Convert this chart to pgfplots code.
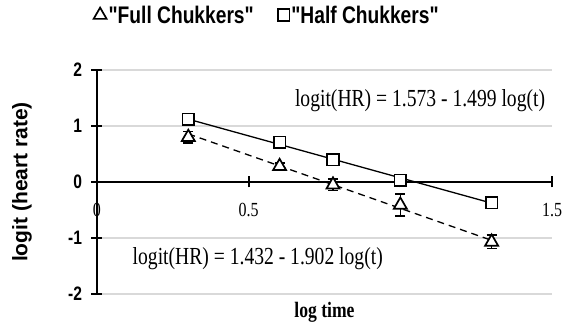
\documentclass[border=0pt]{standalone}
\usepackage{pgfplots}
\pgfplotsset{compat=1.18}
\usepackage{fontspec}
\setmainfont{Liberation Serif}[FakeStretch=0.8]
\setsansfont{Liberation Sans}[FakeStretch=0.8]
\newfontfamily\legfont{Liberation Sans}[FakeStretch=0.8]
\newfontfamily\ylabfont{Liberation Sans}
\begin{document}
\begin{tikzpicture}
\useasboundingbox (-97pt,-30pt) rectangle (484pt,294pt);
\begin{axis}[
  at={(0pt,0pt)}, anchor=south west,
  scale only axis, width=455pt, height=224pt,
  xmin=0, xmax=1.5, ymin=-2, ymax=2,
  axis lines=middle,
  axis line style={-, line width=1.7pt, black},
  hide obscured x ticks=false, hide obscured y ticks=false,
  xtick={0,0.5,1,1.5}, xticklabels={0,0.5,,1.5},
  ytick={-2,-1,0,1,2}, yticklabels={-2,-1,0,1,2},
  tick align=center, major tick length=11pt,
  tick style={line width=1.7pt, black},
  ymajorgrids, grid style={line width=1.2pt, black!15},
  xticklabel style={font=\rmfamily\fontsize{20}{23}\selectfont, yshift=-12pt},
  yticklabel style={font=\sffamily\bfseries\fontsize{19.5}{22}\selectfont, xshift=-6pt},
  xlabel={log time},
  xlabel style={at={(axis description cs:0.5,-0.082)}, anchor=center, font=\rmfamily\bfseries\fontsize{22}{25}\selectfont},
  ylabel={logit (heart rate)},
  ylabel style={at={(axis description cs:-0.165,0.5)}, anchor=center, rotate=90, font=\ylabfont\bfseries\fontsize{21}{25}\selectfont},
  legend style={at={(axis description cs:0.374,1.245)}, anchor=center, draw=none, fill=none,
    font=\legfont\bfseries\fontsize{24}{28}\selectfont, legend columns=2,
    /tikz/every even column/.append style={column sep=22pt}},
  legend cell align=left,
  clip=false,
]
% trend lines
\addplot[forget plot, black, line width=1.3pt] coordinates {(0.301,1.122) (1.301,-0.377)};
\addplot[forget plot, black, line width=1.3pt, dashed, dash pattern=on 7pt off 5pt] coordinates {(0.301,0.859) (1.301,-1.042)};
% Full chukkers (triangles)
\addplot[only marks, mark=triangle*, mark size=7.5pt, mark options={fill=white, draw=black, line width=1.7pt},
  error bars/.cd, y dir=both, y explicit,
  error bar style={line width=1.5pt, black},
  error mark options={rotate=90, mark size=5pt, line width=1.5pt, black}]
  coordinates {
  (0.301,0.80) +- (0,0.10)
  (0.602,0.28) +- (0,0.06)
  (0.778,-0.05) +- (0,0.10)
  (1.000,-0.41) +- (0,0.20)
  (1.301,-1.07) +- (0,0.12)
  };
\addlegendentry{"Full Chukkers"}
% Half chukkers (squares)
\addplot[only marks, mark=square*, mark size=5.8pt, mark options={fill=white, draw=black, line width=1.7pt}]
  coordinates {
  (0.301,1.12)
  (0.602,0.71)
  (0.778,0.40)
  (1.000,0.03)
  (1.301,-0.37)
  };
\addlegendentry{"Half Chukkers"}
\node[font=\rmfamily\fontsize{24.5}{28}\selectfont] at (axis cs:1.065,1.46) {logit(HR) = 1.573 - 1.499 log(t)};
\node[font=\rmfamily\fontsize{24.5}{28}\selectfont] at (axis cs:0.53,-1.36) {logit(HR) = 1.432 - 1.902 log(t)};
\end{axis}
\end{tikzpicture}
\end{document}
